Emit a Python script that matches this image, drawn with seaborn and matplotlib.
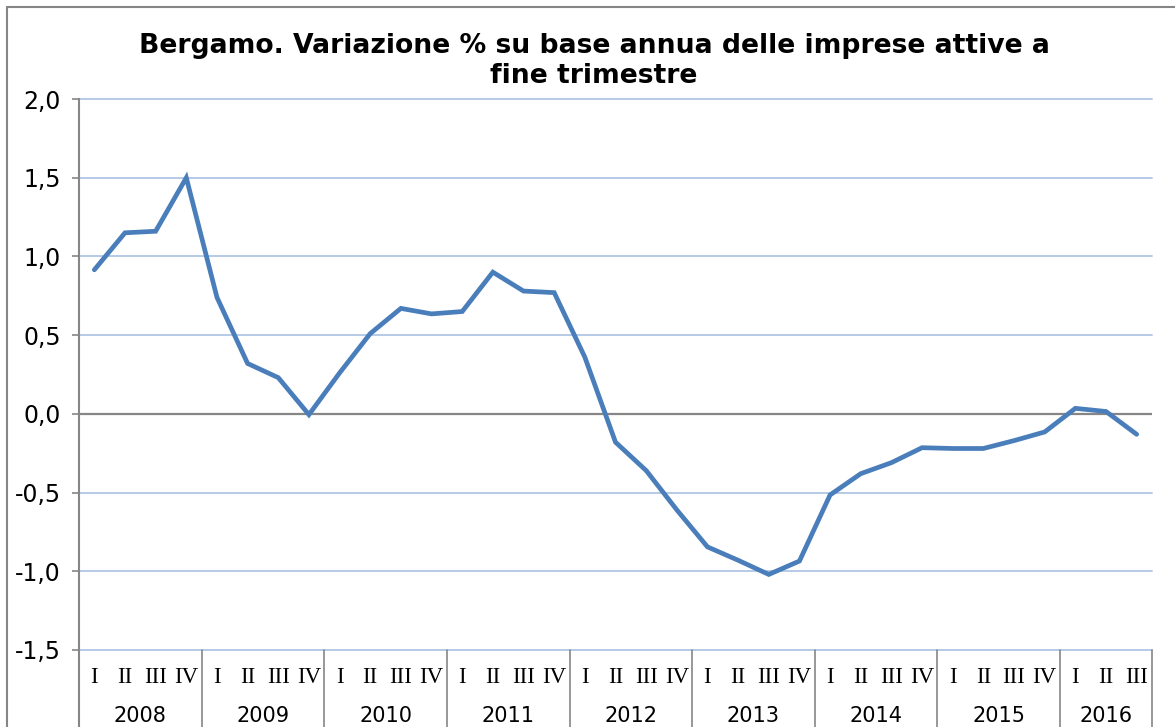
import matplotlib
matplotlib.use("Agg")
import matplotlib.pyplot as plt
import matplotlib.transforms as mtransforms
from matplotlib.lines import Line2D
import seaborn as sns
import pandas as pd
import numpy as np

# dati: variazione % annua imprese attive, Bergamo
years = ["2008", "2009", "2010", "2011", "2012", "2013", "2014", "2015", "2016"]
quarters = ["I", "II", "III", "IV"]
values = [0.915, 1.15, 1.16, 1.50,
          0.74, 0.32, 0.23, -0.005,
          0.26, 0.51, 0.67, 0.635,
          0.65, 0.90, 0.78, 0.77,
          0.36, -0.18, -0.36, -0.61,
          -0.845, -0.93, -1.02, -0.935,
          -0.515, -0.38, -0.31, -0.215,
          -0.22, -0.22, -0.17, -0.115,
          0.035, 0.015, -0.13]
title_lines = ["Bergamo. Variazione % su base annua delle imprese attive a",
               "fine trimestre"]

rows = []
for i, v in enumerate(values):
    rows.append({"idx": i, "anno": years[i // 4], "trim": quarters[i % 4], "var": v})
df = pd.DataFrame(rows)

sns.set_style("white")
plt.rcParams["font.family"] = ["DejaVu Sans"]
plt.rcParams["text.color"] = "black"
plt.rcParams["ytick.labelcolor"] = "black"

W, H = 1175, 727
fig = plt.figure(figsize=(W / 100, H / 100), dpi=100)
ax = fig.add_axes([79 / W, 1 - 650 / H, (1152 - 79) / W, (650 - 99) / H])

sns.lineplot(data=df, x="idx", y="var", ax=ax, color="#4A7EBB", linewidth=3.4,
             solid_joinstyle="miter", zorder=5)

ax.set_xlim(-0.5, len(values) - 0.5)
ax.set_ylim(-1.5, 2.0)
yt = np.arange(-1.5, 2.01, 0.5)
ax.set_yticks(yt)
ax.set_yticklabels([f"{t:.1f}".replace(".", ",") for t in yt], fontsize=17, color="black")
ax.tick_params(axis="y", length=5, width=1.2, color="#868686", pad=8, left=True)
ax.set_xticks([])
ax.set_xlabel("")
ax.set_ylabel("")

for t in yt:
    if abs(t) < 1e-9:
        ax.axhline(t, color="#868686", linewidth=1.6, zorder=2)
    else:
        ax.axhline(t, color="#B0C6E4", linewidth=1.3, zorder=1, clip_on=False)

for s in ["top", "right", "bottom"]:
    ax.spines[s].set_visible(False)
ax.spines["left"].set_color("#868686")
ax.spines["left"].set_linewidth(1.5)

# etichette categorie (trimestri e anni)
trans = mtransforms.blended_transform_factory(ax.transData, ax.transAxes)
for i in range(len(values)):
    ax.text(i, -0.05, quarters[i % 4], transform=trans, ha="center", va="center",
            fontsize=16.5, family="Liberation Serif", color="black", clip_on=False)
n_years = (len(values) + 3) // 4
for k in range(n_years):
    start = k * 4 - 0.5
    end = min(k * 4 + 3.5, len(values) - 0.5)
    ax.text((start + end) / 2, -0.12, years[k], transform=trans, ha="center",
            va="center", fontsize=15, color="black", clip_on=False)
    ax.add_line(Line2D([end, end], [0, -0.2], transform=trans, color="#868686",
                       linewidth=1.2, clip_on=False))
ax.add_line(Line2D([-0.5, -0.5], [0, -0.2], transform=trans, color="#868686",
                   linewidth=1.5, clip_on=False))

# titolo
fig.text(594 / W, 1 - 46 / H, title_lines[0], ha="center", va="center",
         fontsize=19.2, fontweight="bold", color="black")
fig.text(594 / W, 1 - 76 / H, title_lines[1], ha="center", va="center",
         fontsize=19.2, fontweight="bold", color="black")

# cornice del grafico
fig.add_artist(Line2D([7 / W, 7 / W], [0, 1 - 7 / H], transform=fig.transFigure,
                      color="#868686", linewidth=1.5))
fig.add_artist(Line2D([7 / W, 1], [1 - 7 / H, 1 - 7 / H], transform=fig.transFigure,
                      color="#868686", linewidth=1.5))

fig.savefig("out.png", dpi=100)
